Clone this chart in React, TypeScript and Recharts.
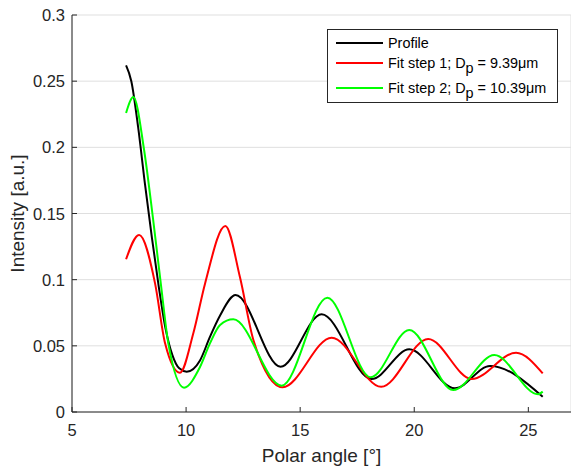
import { LineChart, Line, XAxis, YAxis, CartesianGrid, Legend } from "recharts";

// values (polar angle in degrees, intensity in a.u.)
const profileX = [7.37, 7.6, 7.9, 8.2, 8.5, 8.8, 9.1, 9.4, 9.7, 10.03, 10.61, 11.05, 11.49, 12.17, 14.14, 15.94, 18.13, 19.78, 21.78, 23.32, 25.63];
const profileY = [0.262, 0.25, 0.215, 0.172, 0.132, 0.095, 0.063, 0.043, 0.033, 0.0305, 0.039, 0.057, 0.073, 0.0884, 0.0342, 0.0738, 0.0249, 0.0474, 0.0179, 0.0348, 0.0116];

const fit1X = [7.37, 7.94, 8.64, 9.08, 9.73, 10.32, 10.83, 11.72, 12.36, 12.95, 14.23, 16.38, 18.55, 20.61, 22.52, 24.46, 25.63];
const fit1Y = [0.1154, 0.1338, 0.0972, 0.0519, 0.0297, 0.0597, 0.097, 0.1405, 0.102, 0.0544, 0.0187, 0.0562, 0.019, 0.0552, 0.0249, 0.0448, 0.0292];

const fit2X = [7.37, 7.69, 8.16, 8.54, 8.89, 9.22, 9.91, 10.61, 11.05, 11.49, 12.07, 14.19, 16.19, 18.09, 19.78, 21.71, 23.51, 25.43, 25.63];
const fit2Y = [0.226, 0.238, 0.198, 0.1476, 0.0974, 0.052, 0.0184, 0.034, 0.052, 0.0657, 0.07, 0.0199, 0.0864, 0.0262, 0.062, 0.0166, 0.0431, 0.0134, 0.0154];

const xTicks = [5, 10, 15, 20, 25];
const yTicks = [0, 0.05, 0.1, 0.15, 0.2, 0.25, 0.3];

const toPoints = (xs: number[], ys: number[]) => xs.map((x, i) => ({ x, y: ys[i] }));
const profile = toPoints(profileX, profileY);
const fit1 = toPoints(fit1X, fit1Y);
const fit2 = toPoints(fit2X, fit2Y);

const AXIS = "#262626";
const FONT = "'Liberation Sans', Arial, sans-serif";

// plot box in page pixels
const LEFT = 72;
const TOP = 15;
const BOTTOM = 412;

const BottomTick = (props: any) => {
  const { x, payload } = props;
  return (
    <g>
      <line x1={x} x2={x} y1={BOTTOM} y2={BOTTOM - 5} stroke={AXIS} />
      <text x={x} y={BOTTOM + 24} textAnchor="middle" fontSize={16.5} fill={AXIS} fontFamily={FONT}>
        {payload.value}
      </text>
    </g>
  );
};

const TopTick = (props: any) => {
  const { x } = props;
  return <line x1={x} x2={x} y1={TOP} y2={TOP + 5} stroke={AXIS} />;
};

const LeftTick = (props: any) => {
  const { y, payload } = props;
  return (
    <g>
      <line x1={LEFT} x2={LEFT + 5} y1={y} y2={y} stroke={AXIS} />
      <text x={LEFT - 7} y={y + 6} textAnchor="end" fontSize={16.5} fill={AXIS} fontFamily={FONT}>
        {String(payload.value)}
      </text>
    </g>
  );
};

const legendRows = [
  { color: "#000000", label: "Profile", sub: "", rest: "" },
  { color: "#ff0000", label: "Fit step 1; D", sub: "p", rest: " = 9.39μm" },
  { color: "#00ff00", label: "Fit step 2; D", sub: "p", rest: " = 10.39μm" },
];

const renderLegend = () => (
  <svg width={231} height={74} style={{ display: "block" }}>
    <rect x={0.5} y={0.5} width={230} height={73} fill="#fff" stroke={AXIS} />
    {legendRows.map((r, i) => {
      const ly = [14, 34, 59][i];
      return (
        <g key={r.label}>
          <line x1={9} x2={56} y1={ly} y2={ly} stroke={r.color} strokeWidth={2} />
          <text x={61} y={ly + 5} fontSize={14.4} fill="#000" fontFamily={FONT}>
            {r.label}
            {r.sub && <tspan dy={5}>{r.sub}</tspan>}
            {r.rest && <tspan dy={-5}>{r.rest}</tspan>}
          </text>
        </g>
      );
    })}
  </svg>
);

export default function App() {
  return (
    <div style={{ position: "absolute", left: 0, top: 0, width: 571, height: 468, background: "#fff" }}>
      <LineChart width={571} height={468} margin={{ top: TOP, right: 0, bottom: 0, left: 0 }}>
        <CartesianGrid stroke="#dfdfdf" strokeWidth={1} />
        <XAxis
          xAxisId="bottom"
          type="number"
          dataKey="x"
          domain={[5, 26.87]}
          ticks={xTicks}
          allowDataOverflow
          height={56}
          tickSize={0}
          tickLine={false}
          axisLine={{ stroke: AXIS }}
          tick={<BottomTick />}
          interval={0}
          label={{ value: "Polar angle [°]", position: "insideBottom", offset: 6, fontSize: 19, fill: AXIS, fontFamily: FONT }}
        />
        <XAxis
          xAxisId="top"
          orientation="top"
          type="number"
          dataKey="x"
          domain={[5, 26.87]}
          ticks={xTicks}
          allowDataOverflow
          height={0}
          tickSize={0}
          tickLine={false}
          axisLine={{ stroke: AXIS }}
          tick={<TopTick />}
          interval={0}
        />
        <YAxis
          type="number"
          domain={[0, 0.3]}
          ticks={yTicks}
          width={LEFT}
          tickSize={0}
          tickLine={false}
          axisLine={{ stroke: AXIS }}
          tick={<LeftTick />}
          interval={0}
          label={{ value: "Intensity [a.u.]", angle: -90, position: "insideLeft", offset: 17, fontSize: 19, fill: AXIS, fontFamily: FONT, style: { textAnchor: "middle" } }}
        />
        <Legend
          layout="vertical"
          align="center"
          verticalAlign="middle"
          content={renderLegend}
          wrapperStyle={{ top: 29, left: 327, width: 231, height: 74 }}
        />
        <Line xAxisId="bottom" data={profile} dataKey="y" type="monotone" stroke="#000000" strokeWidth={2} dot={false} isAnimationActive={false} />
        <Line xAxisId="bottom" data={fit1} dataKey="y" type="monotone" stroke="#ff0000" strokeWidth={2} dot={false} isAnimationActive={false} />
        <Line xAxisId="bottom" data={fit2} dataKey="y" type="monotone" stroke="#00ff00" strokeWidth={2} dot={false} isAnimationActive={false} />
      </LineChart>
    </div>
  );
}
